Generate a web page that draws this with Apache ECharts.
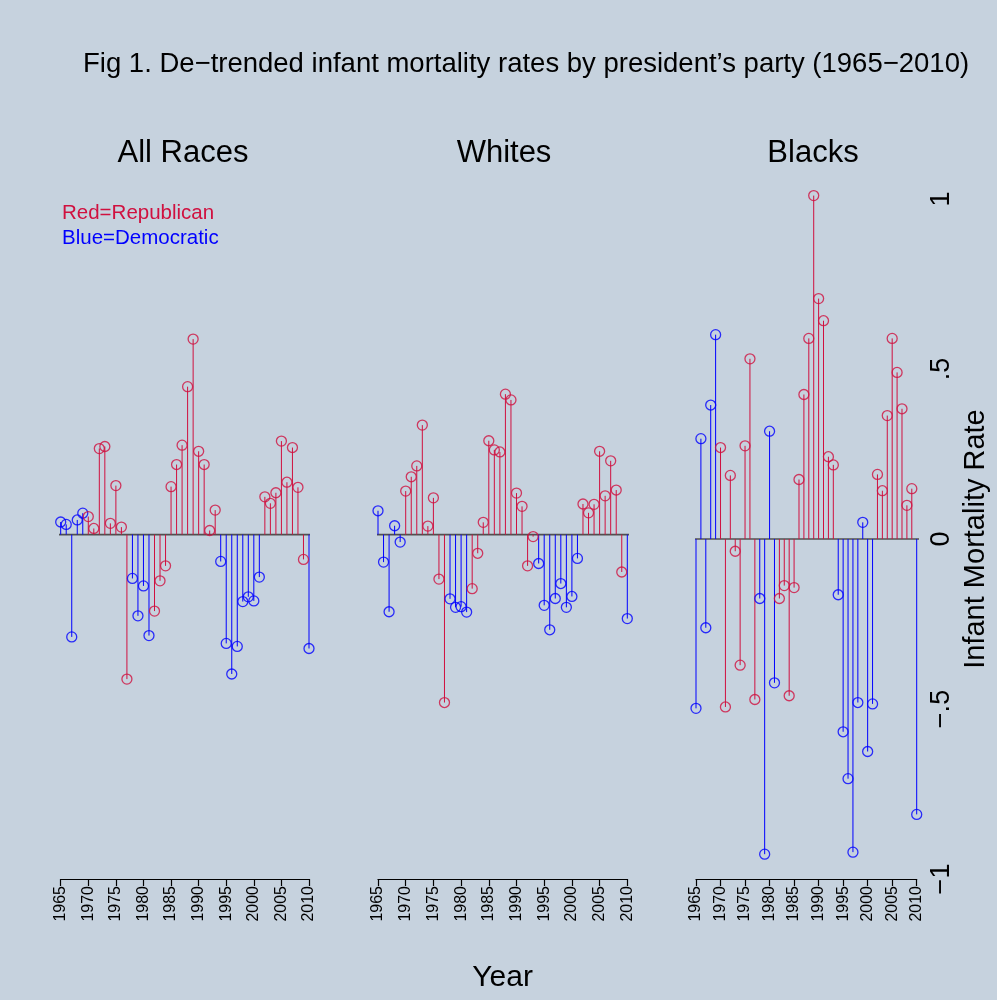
<!DOCTYPE html>
<html>
<head>
<meta charset="utf-8">
<script src="https://cdn.jsdelivr.net/npm/echarts@6/dist/echarts.min.js"></script>
<style>
  html, body { margin: 0; padding: 0; background: #c6d2de; }
  #chart { width: 997px; height: 1000px; }
</style>
</head>
<body>
<div id="chart"></div>
<script>
// Years covered by every panel
const YEARS = [
  1965, 1966, 1967, 1968, 1969, 1970, 1971, 1972, 1973, 1974,
  1975, 1976, 1977, 1978, 1979, 1980, 1981, 1982, 1983, 1984,
  1985, 1986, 1987, 1988, 1989, 1990, 1991, 1992, 1993, 1994,
  1995, 1996, 1997, 1998, 1999, 2000, 2001, 2002, 2003, 2004,
  2005, 2006, 2007, 2008, 2009, 2010
];

// Party of the president attributed to each year (R = Republican, D = Democratic)
const PARTY = [
  'D', 'D', 'D', 'D', 'D',
  'R', 'R', 'R', 'R', 'R', 'R', 'R', 'R',
  'D', 'D', 'D', 'D',
  'R', 'R', 'R', 'R', 'R', 'R', 'R', 'R', 'R', 'R', 'R', 'R',
  'D', 'D', 'D', 'D', 'D', 'D', 'D', 'D',
  'R', 'R', 'R', 'R', 'R', 'R', 'R', 'R',
  'D'
];

// De-trended infant mortality rates
const ALL_RACES = [
  0.037, 0.030, -0.301, 0.043, 0.063,
  0.053, 0.018, 0.253, 0.259, 0.033, 0.144, 0.022, -0.425,
  -0.129, -0.239, -0.151, -0.297,
  -0.225, -0.136, -0.092, 0.141, 0.206, 0.263, 0.435, 0.575, 0.245, 0.206, 0.012, 0.072,
  -0.079, -0.320, -0.410, -0.329, -0.197, -0.183, -0.195, -0.125,
  0.111, 0.092, 0.123, 0.275, 0.154, 0.256, 0.139, -0.073,
  -0.335
];

const WHITES = [
  0.070, -0.081, -0.227, 0.026, -0.022,
  0.128, 0.170, 0.202, 0.322, 0.025, 0.108, -0.131, -0.494,
  -0.189, -0.214, -0.212, -0.228,
  -0.159, -0.055, 0.036, 0.276, 0.249, 0.243, 0.413, 0.396, 0.122, 0.083, -0.092, -0.006,
  -0.085, -0.208, -0.280, -0.188, -0.144, -0.214, -0.182, -0.070,
  0.090, 0.064, 0.089, 0.245, 0.114, 0.217, 0.131, -0.110,
  -0.247
];

const BLACKS = [
  -0.498, 0.295, -0.261, 0.394, 0.601,
  0.269, -0.494, 0.187, -0.036, -0.371, 0.274, 0.530, -0.472,
  -0.175, -0.927, 0.317, -0.423,
  -0.175, -0.137, -0.461, -0.143, 0.175, 0.425, 0.590, 1.010, 0.707, 0.642, 0.242, 0.218,
  -0.164, -0.567, -0.705, -0.921, -0.481, 0.049, -0.625, -0.485,
  0.190, 0.142, 0.363, 0.590, 0.490, 0.383, 0.099, 0.148,
  -0.810
];

const PANEL_TITLES = ['All Races', 'Whites', 'Blacks'];
const RATE_TICK_LABELS = { '1': '1', '0.5': '.5', '0': '0', '-0.5': '\u2212.5', '-1': '\u22121' };
const ZERO_LINE_YEARS = [1964.2, 2010.8];

const FONT = "'Liberation Sans', Arial, Helvetica, sans-serif";
const COLORS = { R: '#d0103f', D: '#0000ff' };

// Plot frames for the three panels
const GRID_TOP = 199;
const GRID_HEIGHT = 680;
const panels = [
  { values: ALL_RACES, left: 60.7, width: 248.3, yMin: -1.013, yMax: 0.987, titleX: 183 },
  { values: WHITES, left: 378, width: 249.3, yMin: -1.013, yMax: 0.987, titleX: 504 },
  { values: BLACKS, left: 696, width: 220.7, yMin: -1, yMax: 1, titleX: 813 }
];

const chart = echarts.init(document.getElementById('chart'), null, { renderer: 'canvas' });

const grids = [], xAxes = [], yAxes = [], series = [], graphics = [];

panels.forEach((p, k) => {
  grids.push({ left: p.left, top: GRID_TOP, width: p.width, height: GRID_HEIGHT });

  xAxes.push({
    gridIndex: k,
    type: 'value',
    position: 'bottom',
    min: 1965, max: 2010, interval: 5,
    axisLine: { show: true, onZero: false, lineStyle: { color: '#000', width: 1.2 } },
    axisTick: { show: true, length: 7, lineStyle: { color: '#000', width: 1.2 } },
    axisLabel: {
      rotate: 90, fontSize: 16, color: '#000', margin: 7, fontFamily: FONT,
      formatter: v => String(v)
    },
    splitLine: { show: false },
    name: k === 1 ? 'Year' : '',
    nameLocation: 'middle',
    nameGap: 84,
    nameTextStyle: { fontSize: 30, color: '#000', fontFamily: FONT }
  });

  const isRight = k === 2;
  yAxes.push({
    gridIndex: k,
    type: 'value',
    show: isRight,
    position: 'right',
    min: p.yMin, max: p.yMax,
    interval: isRight ? 0.5 : undefined,
    axisLine: { show: false },
    axisTick: { show: false },
    splitLine: { show: false },
    axisLabel: {
      show: isRight,
      rotate: 90,
      fontSize: 27,
      margin: 11,
      color: '#000',
      fontFamily: FONT,
      formatter: v => RATE_TICK_LABELS[String(v)] ?? ''
    },
    name: isRight ? 'Infant Mortality Rate' : '',
    nameLocation: 'middle',
    nameRotate: 90,
    nameGap: 45,
    nameTextStyle: { fontSize: 29, color: '#000', fontFamily: FONT }
  });

  // zero reference line
  series.push({
    type: 'line',
    xAxisIndex: k, yAxisIndex: k,
    data: ZERO_LINE_YEARS.map(y => [y, 0]),
    symbol: 'none',
    clip: false,
    silent: true,
    lineStyle: { color: '#505050', width: 1.6 },
    z: 1,
    animation: false
  });

  // stems from zero to each value
  series.push({
    type: 'custom',
    xAxisIndex: k, yAxisIndex: k,
    clip: false,
    silent: true,
    z: 2,
    data: YEARS.map((y, i) => [y, p.values[i]]),
    renderItem: (params, api) => {
      const x = api.value(0), v = api.value(1);
      const a = api.coord([x, 0]);
      const b = api.coord([x, v]);
      return {
        type: 'line',
        shape: { x1: a[0], y1: a[1], x2: b[0], y2: b[1] },
        style: { stroke: COLORS[PARTY[params.dataIndex]], lineWidth: 1 }
      };
    },
    animation: false
  });

  // open circles at each value
  series.push({
    type: 'scatter',
    xAxisIndex: k, yAxisIndex: k,
    clip: false,
    silent: true,
    z: 3,
    symbol: 'circle',
    symbolSize: 10,
    data: YEARS.map((y, i) => ({
      value: [y, p.values[i]],
      itemStyle: { borderColor: COLORS[PARTY[i]] }
    })),
    itemStyle: { color: 'rgba(0,0,0,0)', borderWidth: 1.3 },
    emphasis: { disabled: true },
    animation: false
  });

  graphics.push({
    type: 'text',
    x: p.titleX, y: 153,
    style: {
      text: PANEL_TITLES[k],
      fontSize: 31, fontFamily: FONT, fill: '#000',
      textAlign: 'center', textVerticalAlign: 'middle'
    }
  });
});

// party key in the first panel
graphics.push({
  type: 'text', x: 62, y: 213,
  style: { text: 'Red=Republican', fontSize: 20.5, fontFamily: FONT, fill: COLORS.R, textVerticalAlign: 'middle' }
});
graphics.push({
  type: 'text', x: 62, y: 238,
  style: { text: 'Blue=Democratic', fontSize: 20.5, fontFamily: FONT, fill: COLORS.D, textVerticalAlign: 'middle' }
});

chart.setOption({
  backgroundColor: '#c6d2de',
  animation: false,
  title: {
    text: 'Fig 1. De\u2212trended infant mortality rates by president\u2019s party (1965\u22122010)',
    left: 78, top: 45,
    textStyle: { fontSize: 27.5, fontWeight: 'normal', color: '#000', fontFamily: FONT }
  },
  grid: grids,
  xAxis: xAxes,
  yAxis: yAxes,
  series: series,
  graphic: graphics
});
</script>
</body>
</html>
